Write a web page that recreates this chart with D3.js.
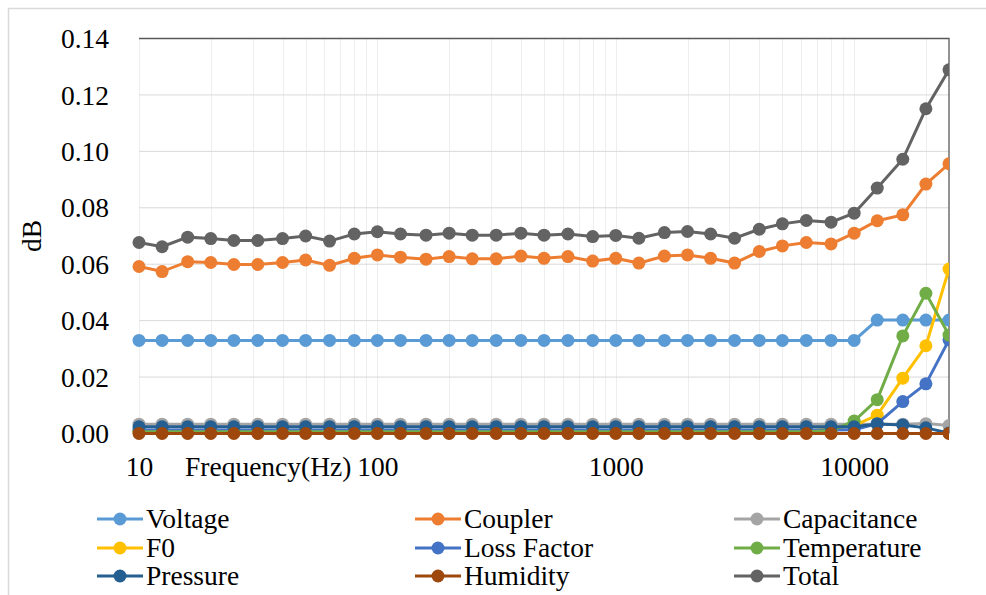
<!DOCTYPE html>
<html>
    <head>
        <style>
            body { margin: 0; background: #fff; }
            svg text { font-family: "Liberation Serif", "Times New Roman", Times, "DejaVu Serif", serif !important; fill: #000; }
            .grid-h { stroke: #d9d9d9; stroke-width: 1; }
            .grid-v { stroke: #eeeeee; stroke-width: 1; }
            .series { fill: none; stroke-width: 3px; }
        </style>
    </head>
<body>
<script src="https://d3js.org/d3.v7.min.js"></script>
<script>
    // data start
    var freqs = [10, 12.5, 16, 20, 25, 31.5, 40, 50, 63, 80,
        100, 125, 160, 200, 250, 315, 400, 500, 630, 800,
        1000, 1250, 1600, 2000, 2500, 3150, 4000, 5000, 6300, 8000,
        10000, 12500, 16000, 20000, 25000];

    var voltage = [0.033, 0.033, 0.033, 0.033, 0.033, 0.033, 0.033, 0.033, 0.033, 0.033,
        0.033, 0.033, 0.033, 0.033, 0.033, 0.033, 0.033, 0.033, 0.033, 0.033,
        0.033, 0.033, 0.033, 0.033, 0.033, 0.033, 0.033, 0.033, 0.033, 0.033,
        0.033, 0.0402, 0.0402, 0.0402, 0.0402];
    var coupler = [0.0592, 0.0574, 0.0609, 0.0606, 0.0599, 0.0599, 0.0606, 0.0615, 0.0596, 0.0621,
        0.0633, 0.0625, 0.0618, 0.0627, 0.0619, 0.0619, 0.0629, 0.0621, 0.0627, 0.0611,
        0.0621, 0.0604, 0.0629, 0.0633, 0.0621, 0.0604, 0.0645, 0.0665, 0.0677, 0.0672,
        0.0710, 0.0754, 0.0775, 0.0884, 0.0956];
    var capacitance = [0.0033, 0.0033, 0.0033, 0.0033, 0.0033, 0.0033, 0.0033, 0.0033, 0.0033, 0.0033,
        0.0033, 0.0033, 0.0033, 0.0033, 0.0033, 0.0033, 0.0033, 0.0033, 0.0033, 0.0033,
        0.0033, 0.0033, 0.0033, 0.0033, 0.0033, 0.0033, 0.0033, 0.0033, 0.0033, 0.0033,
        0.0033, 0.0033, 0.0033, 0.0035, 0.0028];
    var f0 = [0.0008, 0.0008, 0.0008, 0.0008, 0.0008, 0.0008, 0.0008, 0.0008, 0.0008, 0.0008,
        0.0008, 0.0008, 0.0008, 0.0008, 0.0008, 0.0008, 0.0008, 0.0008, 0.0008, 0.0008,
        0.0008, 0.0008, 0.0008, 0.0008, 0.0008, 0.0008, 0.0008, 0.0008, 0.0008, 0.0018,
        0.0028, 0.0065, 0.0196, 0.0311, 0.0583];
    var lossFactor = [0.0012, 0.0012, 0.0012, 0.0012, 0.0012, 0.0012, 0.0012, 0.0012, 0.0012, 0.0012,
        0.0012, 0.0012, 0.0012, 0.0012, 0.0012, 0.0012, 0.0012, 0.0012, 0.0012, 0.0012,
        0.0012, 0.0012, 0.0012, 0.0012, 0.0012, 0.0012, 0.0012, 0.0012, 0.0012, 0.0012,
        0.0013, 0.0035, 0.0113, 0.0176, 0.0332];
    var temperature = [0.0006, 0.0006, 0.0006, 0.0006, 0.0006, 0.0006, 0.0006, 0.0006, 0.0006, 0.0006,
        0.0006, 0.0006, 0.0006, 0.0006, 0.0006, 0.0006, 0.0006, 0.0006, 0.0006, 0.0006,
        0.0006, 0.0006, 0.0006, 0.0006, 0.0006, 0.0006, 0.0006, 0.0006, 0.0006, 0.0010,
        0.0044, 0.0120, 0.0346, 0.0497, 0.0349];
    var pressure = [0.0024, 0.0024, 0.0024, 0.0024, 0.0024, 0.0024, 0.0024, 0.0024, 0.0024, 0.0024,
        0.0024, 0.0024, 0.0024, 0.0024, 0.0024, 0.0024, 0.0024, 0.0024, 0.0024, 0.0024,
        0.0024, 0.0024, 0.0024, 0.0024, 0.0024, 0.0024, 0.0024, 0.0024, 0.0024, 0.0024,
        0.0024, 0.0034, 0.0030, 0.0020, 0.0002];
    var humidity = [0, 0, 0, 0, 0, 0, 0, 0, 0, 0,
        0, 0, 0, 0, 0, 0, 0, 0, 0, 0,
        0, 0, 0, 0, 0, 0, 0, 0, 0, 0,
        0, 0, 0, 0, 0];
    var total = [0.0677, 0.0662, 0.0696, 0.0691, 0.0684, 0.0684, 0.0691, 0.0700, 0.0682, 0.0707,
        0.0715, 0.0707, 0.0703, 0.0710, 0.0703, 0.0703, 0.0710, 0.0703, 0.0707, 0.0698,
        0.0702, 0.0692, 0.0712, 0.0716, 0.0707, 0.0692, 0.0724, 0.0743, 0.0755, 0.0749,
        0.0781, 0.0870, 0.0972, 0.1151, 0.1289];

    var seriesNames = ["Voltage", "Coupler", "Capacitance", "F0", "Loss Factor", "Temperature", "Pressure", "Humidity", "Total"];
    var seriesValues = [voltage, coupler, capacitance, f0, lossFactor, temperature, pressure, humidity, total];
    var seriesColors = ["#5b9bd5", "#ed7d31", "#a5a5a5", "#ffc000", "#4472c4", "#70ad47", "#255e91", "#9e480e", "#636363"];

    var yTicks = [0, 0.02, 0.04, 0.06, 0.08, 0.10, 0.12, 0.14];
    var xTicks = [10, 100, 1000, 10000];
    // data end

    var fontSize = "27.5px";
    var plot = { left: 139, top: 38.5, right: 949, bottom: 433.5 };

    var svg = d3.select("body").append("svg")
        .attr("width", 986)
        .attr("height", 595);

    // chart frame
    svg.append("rect")
        .attr("x", 8.5).attr("y", 8.5)
        .attr("width", 1000).attr("height", 620)
        .attr("fill", "none")
        .attr("stroke", "#d9d9d9")
        .attr("stroke-width", 1.5);

    var x = d3.scaleLog()
        .domain([10, 25000])
        .range([plot.left, plot.right]);

    var y = d3.scaleLinear()
        .domain([0, 0.14])
        .range([plot.bottom, plot.top]);

    // vertical minor grid (1..9 x decade)
    var vGrid = [];
    [10, 100, 1000, 10000].forEach(function(dec) {
        for (var k = 1; k <= 9; k++) {
            var v = dec * k;
            if (v >= 10 && v <= 25000) vGrid.push(v);
        }
    });

    svg.append("g").selectAll("line")
        .data(vGrid)
        .enter().append("line")
        .attr("class", "grid-v")
        .attr("x1", function(d) { return Math.round(x(d)) + 0.5; })
        .attr("x2", function(d) { return Math.round(x(d)) + 0.5; })
        .attr("y1", plot.top)
        .attr("y2", plot.bottom);

    svg.append("g").selectAll("line")
        .data(yTicks.slice(1))
        .enter().append("line")
        .attr("class", "grid-h")
        .attr("x1", plot.left)
        .attr("x2", plot.right)
        .attr("y1", function(d) { return y(d); })
        .attr("y2", function(d) { return y(d); });

    // plot area border: top and right only
    svg.append("path")
        .attr("d", "M" + plot.left + "," + plot.top + "H" + plot.right + "V" + plot.bottom)
        .attr("fill", "none")
        .attr("stroke", "#595959")
        .attr("stroke-width", 1.3);

    // y axis labels
    var yAxis = d3.axisLeft(y)
        .tickValues(yTicks)
        .tickFormat(d3.format(".2f"))
        .tickSize(0)
        .tickPadding(0);

    var yg = svg.append("g")
        .attr("transform", "translate(109,0)")
        .call(yAxis)
        .attr("font-family", null);
    yg.select(".domain").remove();
    yg.selectAll("text")
        .attr("dy", "0.33em")
        .style("font-size", fontSize);

    // x axis labels
    var xAxis = d3.axisBottom(x)
        .tickValues(xTicks)
        .tickFormat(d3.format("d"))
        .tickSize(0)
        .tickPadding(0);

    var xg = svg.append("g")
        .attr("transform", "translate(0,476)")
        .call(xAxis)
        .attr("font-family", null);
    xg.select(".domain").remove();
    xg.selectAll("text")
        .attr("dy", 0)
        .attr("y", 0)
        .style("font-size", fontSize);

    svg.append("text")
        .attr("x", 185)
        .attr("y", 476)
        .style("font-size", fontSize)
        .text("Frequency(Hz)");

    svg.append("text")
        .attr("transform", "translate(41,236) rotate(-90)")
        .style("text-anchor", "middle")
        .style("font-size", fontSize)
        .text("dB");

    // series
    svg.append("clipPath")
        .attr("id", "plot-clip")
        .append("rect")
        .attr("x", plot.left - 10)
        .attr("y", plot.top - 10)
        .attr("width", plot.right - plot.left + 10)
        .attr("height", plot.bottom - plot.top + 20);

    var line = d3.line()
        .x(function(d) { return x(d.f); })
        .y(function(d) { return y(d.v); });

    var plotG = svg.append("g").attr("clip-path", "url(#plot-clip)");

    seriesNames.forEach(function(name, i) {
        var pts = freqs.map(function(f, j) { return { f: f, v: seriesValues[i][j] }; });
        var g = plotG.append("g");
        g.append("path")
            .datum(pts)
            .attr("class", "series")
            .attr("stroke", seriesColors[i])
            .attr("d", line);
        g.selectAll("circle")
            .data(pts)
            .enter().append("circle")
            .attr("cx", function(d) { return x(d.f); })
            .attr("cy", function(d) { return y(d.v); })
            .attr("r", 6.5)
            .attr("fill", seriesColors[i]);
    });

    // legend
    var legendCols = [97, 415, 734];
    var legendRows = [519, 548, 576];

    seriesNames.forEach(function(name, i) {
        var lx = legendCols[i % 3],
            ly = legendRows[Math.floor(i / 3)];
        var lg = svg.append("g").attr("transform", "translate(" + lx + "," + ly + ")");
        lg.append("line")
            .attr("x1", 0).attr("x2", 46)
            .attr("stroke", seriesColors[i])
            .attr("stroke-width", 3);
        lg.append("circle")
            .attr("cx", 23)
            .attr("r", 6.5)
            .attr("fill", seriesColors[i]);
        lg.append("text")
            .attr("x", 49)
            .attr("dy", "0.33em")
            .style("font-size", fontSize)
            .text(name);
    });
</script>
</body>
</html>
